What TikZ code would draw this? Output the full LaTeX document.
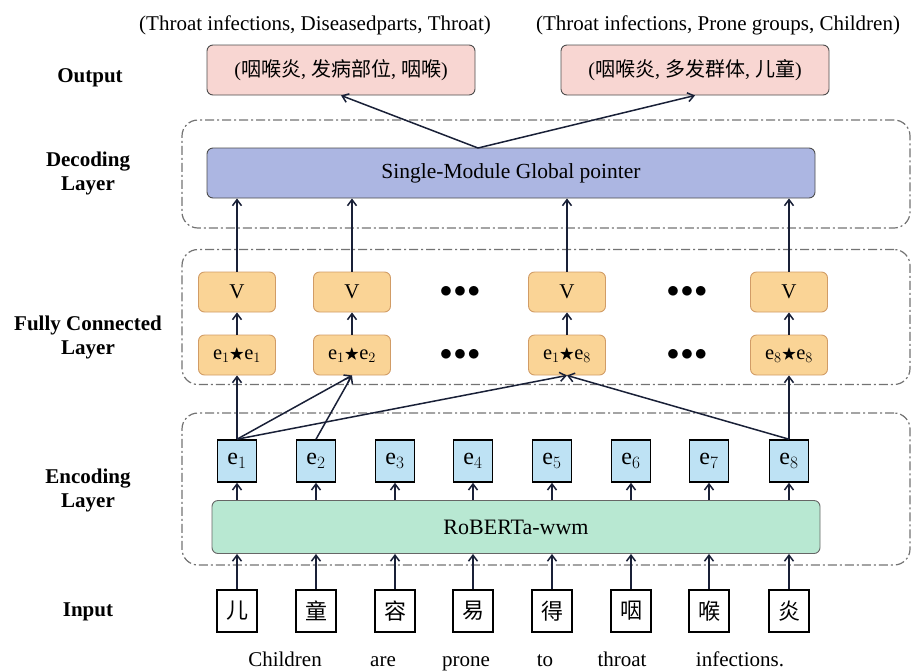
\documentclass[tikz,border=0pt]{standalone}
\usepackage{amssymb}
\usepackage{fontspec}
\setmainfont{Liberation Serif}
\newfontfamily\cjk{Noto Sans CJK SC}
\usetikzlibrary{arrows.meta}

\definecolor{outpink}{RGB}{248,214,210}
\definecolor{gpblue}{RGB}{172,182,226}
\definecolor{vorange}{RGB}{250,212,150}
\definecolor{eblue}{RGB}{190,226,244}
\definecolor{bertgreen}{RGB}{184,232,210}
\definecolor{linkc}{RGB}{25,32,55}
\newcommand{\pstar}{\raisebox{1pt}{\scalebox{0.75}{$\bigstar$}}}

\begin{document}
\begin{tikzpicture}[
  x=1pt, y=-1pt,
  every node/.style={inner sep=0pt},
  outbox/.style={draw=black!70,line width=0.9pt,fill=outpink,rounded corners=6pt,minimum width=268pt,minimum height=50pt,font=\fontsize{20}{22}\selectfont},
  gpbox/.style={draw=black!70,line width=0.9pt,fill=gpblue,rounded corners=6pt,minimum width=608pt,minimum height=50pt,font=\fontsize{21.5}{24}\selectfont},
  vbox/.style={draw=orange!70!black!60,line width=0.9pt,fill=vorange,rounded corners=6pt,minimum width=77pt,minimum height=40pt,font=\fontsize{21}{23}\selectfont},
  pbox/.style={vbox,font=\fontsize{20.5}{22}\selectfont},
  ebox/.style={draw=black,line width=1.6pt,fill=eblue,minimum width=39pt,minimum height=42pt,font=\fontsize{24}{26}\selectfont},
  inbox/.style={draw=black,line width=1.6pt,fill=white,minimum width=40pt,minimum height=42pt,font=\cjk\fontsize{22}{24}\selectfont},
  bertbox/.style={draw=black!60,line width=0.9pt,fill=bertgreen,rounded corners=6pt,minimum width=608pt,minimum height=53pt,font=\fontsize{22}{24}\selectfont},
  layerbox/.style={draw=black!55,line width=1.2pt,dash pattern=on 9pt off 3pt on 2pt off 3pt,rounded corners=16pt,minimum width=728pt},
  lbl/.style={font=\bfseries\fontsize{21}{24}\selectfont,align=center},
  word/.style={font=\fontsize{21}{23}\selectfont},
  dots/.style={font=\fontsize{24}{24}\selectfont},
  arr/.style={-{Straight Barb[length=6pt,width=9pt]},line width=1.5pt,draw=linkc}
]
\useasboundingbox (0,0) rectangle (917,670);

% layers
\node[layerbox,minimum height=108pt] (dec) at (546,174) {};
\node[layerbox,minimum height=135pt] (fc) at (546,317) {};
\node[layerbox,minimum height=152pt] (enc) at (546,489) {};

% labels on the left
\node[lbl] (lout) at (90,78) {Output};
\node[lbl] (ldec) at (88,173) {Decoding\\Layer};
\node[lbl] (lfc) at (88,337) {Fully Connected\\Layer};
\node[lbl] (lenc) at (88,490) {Encoding\\Layer};
\node[lbl] (lin) at (88,612) {Input};

% output
\node[word] (t1) at (315,25) {(Throat infections, Diseasedparts, Throat)};
\node[word] (t2) at (718,25) {(Throat infections, Prone groups, Children)};
\node[outbox] (out1) at (341,70) {({\cjk 咽喉炎}, {\cjk 发病部位}, {\cjk 咽喉})};
\node[outbox] (out2) at (695,70) {({\cjk 咽喉炎}, {\cjk 多发群体}, {\cjk 儿童})};

% decoding
\node[gpbox] (gp) at (511,173) {Single-Module Global pointer};
\coordinate (apex) at (478,148);

% fully connected
\node[vbox] (v1) at (237,292) {V};
\node[vbox] (v2) at (352,292) {V};
\node[vbox] (v3) at (567,292) {V};
\node[vbox] (v4) at (789,292) {V};
\node[pbox] (p11) at (237,355) {e$_1$\pstar e$_1$};
\node[pbox] (p12) at (352,355) {e$_1$\pstar e$_2$};
\node[pbox] (p18) at (567,355) {e$_1$\pstar e$_8$};
\node[pbox] (p88) at (789,355) {e$_8$\pstar e$_8$};
\node[dots] (d1) at (460,292) {$\bullet\!\bullet\!\bullet$};
\node[dots] (d2) at (460,355) {$\bullet\!\bullet\!\bullet$};
\node[dots] (d3) at (687,292) {$\bullet\!\bullet\!\bullet$};
\node[dots] (d4) at (687,355) {$\bullet\!\bullet\!\bullet$};

% encoding
\node[ebox] (e1) at (237,461) {e$_1$};
\node[ebox] (e2) at (316,461) {e$_2$};
\node[ebox] (e3) at (395,461) {e$_3$};
\node[ebox] (e4) at (473,461) {e$_4$};
\node[ebox] (e5) at (552,461) {e$_5$};
\node[ebox] (e6) at (631,461) {e$_6$};
\node[ebox] (e7) at (709,461) {e$_7$};
\node[ebox] (e8) at (789,461) {e$_8$};
\node[bertbox] (bert) at (516,527) {RoBERTa-wwm};

% input
\node[inbox] (c1) at (237,611) {儿};
\node[inbox] (c2) at (316,611) {童};
\node[inbox] (c3) at (395,611) {容};
\node[inbox] (c4) at (473,611) {易};
\node[inbox] (c5) at (552,611) {得};
\node[inbox] (c6) at (631,611) {咽};
\node[inbox] (c7) at (709,611) {喉};
\node[inbox] (c8) at (789,611) {炎};
\node[word,anchor=base] (w1) at (285,666) {Children};
\node[word,anchor=base] (w2) at (383,666) {are};
\node[word,anchor=base] (w3) at (466,666) {prone};
\node[word,anchor=base] (w4) at (545,666) {to};
\node[word,anchor=base] (w5) at (622,666) {throat};
\node[word,anchor=base] (w6) at (740,666) {infections.};

% input -> bert -> e
\draw[arr] (c1.north) -- (c1.north |- bert.south);
\draw[arr] (c2.north) -- (c2.north |- bert.south);
\draw[arr] (c3.north) -- (c3.north |- bert.south);
\draw[arr] (c4.north) -- (c4.north |- bert.south);
\draw[arr] (c5.north) -- (c5.north |- bert.south);
\draw[arr] (c6.north) -- (c6.north |- bert.south);
\draw[arr] (c7.north) -- (c7.north |- bert.south);
\draw[arr] (c8.north) -- (c8.north |- bert.south);
\draw[arr] (e1.south |- bert.north) -- (e1.south);
\draw[arr] (e2.south |- bert.north) -- (e2.south);
\draw[arr] (e3.south |- bert.north) -- (e3.south);
\draw[arr] (e4.south |- bert.north) -- (e4.south);
\draw[arr] (e5.south |- bert.north) -- (e5.south);
\draw[arr] (e6.south |- bert.north) -- (e6.south);
\draw[arr] (e7.south |- bert.north) -- (e7.south);
\draw[arr] (e8.south |- bert.north) -- (e8.south);

% e -> pairs
\draw[arr] (e1.north) -- (p11.south);
\draw[arr] (e1.north) -- (p12.south);
\draw[arr] (e2.north) -- (p12.south);
\draw[arr] (e1.north) -- (p18.south);
\draw[arr] (e8.north) -- (p18.south);
\draw[arr] (e8.north) -- (p88.south);

% pairs -> V -> pointer
\draw[arr] (p11) -- (v1);
\draw[arr] (p12) -- (v2);
\draw[arr] (p18) -- (v3);
\draw[arr] (p88) -- (v4);
\draw[arr] (v1.north) -- (v1.north |- gp.south);
\draw[arr] (v2.north) -- (v2.north |- gp.south);
\draw[arr] (v3.north) -- (v3.north |- gp.south);
\draw[arr] (v4.north) -- (v4.north |- gp.south);

% pointer -> output
\draw[arr] (apex) -- (out1.south);
\draw[arr] (apex) -- (out2.south);
\end{tikzpicture}
\end{document}
